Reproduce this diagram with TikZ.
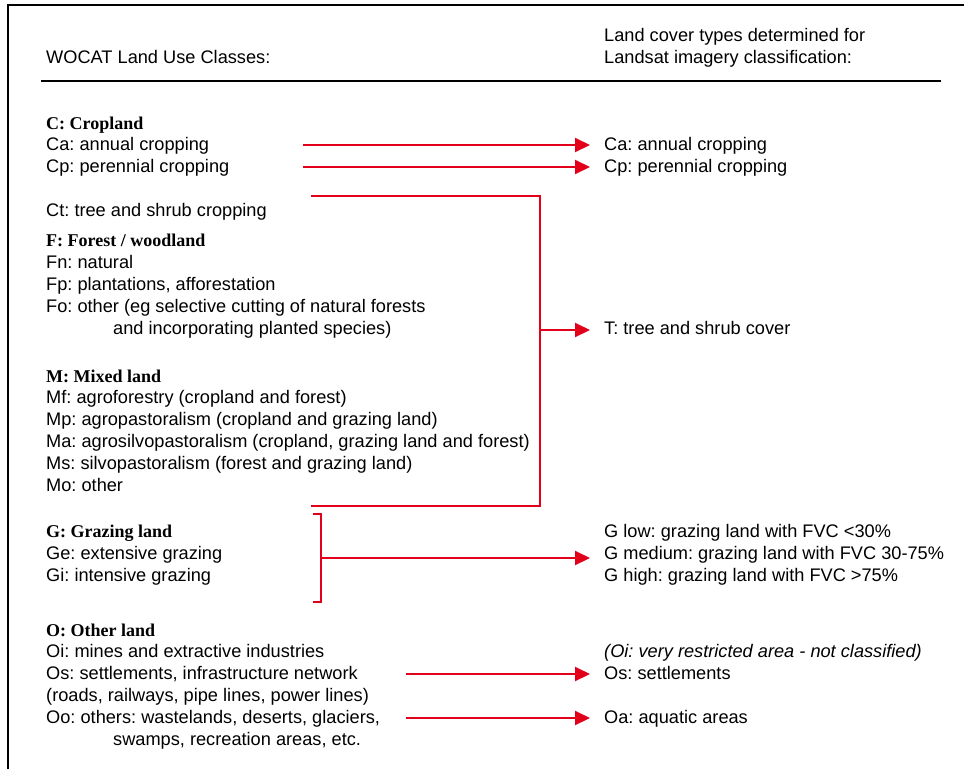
\documentclass[tikz,border=0pt]{standalone}
\usepackage{fontspec}
\setmainfont{Liberation Sans}
\newfontfamily\headfont{Liberation Serif}
\usepackage{tikz}
\usetikzlibrary{arrows.meta}
\frenchspacing
\definecolor{landred}{RGB}{226,0,26}
\tikzset{txt/.style={anchor=base west, inner sep=0pt, font=\fontsize{18.2}{22}\selectfont}}
\tikzset{head/.style={txt, font=\fontsize{18}{22}\selectfont\headfont\bfseries}}
\tikzset{rtxt/.style={txt, inner xsep=14pt}}
\tikzset{redline/.style={draw=landred, line width=2pt}}
\tikzset{redarrow/.style={redline, -{Triangle[length=15pt,width=14pt]}}}

\begin{document}
\begin{tikzpicture}[x=1pt,y=-1pt]
\useasboundingbox (0,0) rectangle (964,769);
\draw[line width=2pt] (8,769) -- (8,5) -- (964,5);
\draw[line width=2pt] (41,81) -- (941,81);
% headers
\node[txt] (lhead) at (46,63) {WOCAT Land Use Classes:};
\node[txt] (rhead1) at (604,41) {Land cover types determined for};
\node[txt] (rhead2) at (604,63) {Landsat imagery classification:};
% left column
\node[head] (hC) at (46,129) {C: Cropland};
\node[txt] (lCa) at (46,150) {Ca: annual cropping};
\node[txt] (lCp) at (46,172) {Cp: perennial cropping};
\node[txt] (lCt) at (46,216) {Ct: tree and shrub cropping};
\node[head] (hF) at (46,246) {F: Forest / woodland};
\node[txt] (lFn) at (46,268) {Fn: natural};
\node[txt] (lFp) at (46,290) {Fp: plantations, afforestation};
\node[txt] (lFo) at (46,312) {Fo: other (eg selective cutting of natural forests};
\node[txt] (lFo2) at (113,334) {and incorporating planted species)};
\node[head] (hM) at (46,382) {M: Mixed land};
\node[txt] (lMf) at (46,403) {Mf: agroforestry (cropland and forest)};
\node[txt] (lMp) at (46,425) {Mp: agropastoralism (cropland and grazing land)};
\node[txt] (lMa) at (46,447) {Ma: agrosilvopastoralism (cropland, grazing land and forest)};
\node[txt] (lMs) at (46,469) {Ms: silvopastoralism (forest and grazing land)};
\node[txt] (lMo) at (46,491) {Mo: other};
\node[head] (hG) at (46,537) {G: Grazing land};
\node[txt] (lGe) at (46,559) {Ge: extensive grazing};
\node[txt] (lGi) at (46,581) {Gi: intensive grazing};
\node[head] (hO) at (46,636) {O: Other land};
\node[txt] (lOi) at (46,657) {Oi: mines and extractive industries};
\node[txt] (lOs) at (46,679) {Os: settlements, infrastructure network};
\node[txt] (lOs2) at (46,701) {(roads, railways, pipe lines, power lines)};
\node[txt] (lOo) at (46,723) {Oo: others: wastelands, deserts, glaciers,};
\node[txt] (lOo2) at (113,745) {swamps, recreation areas, etc.};
% right column
\node[rtxt] (rCa) at (590,150) {Ca: annual cropping};
\node[rtxt] (rCp) at (590,172) {Cp: perennial cropping};
\node[rtxt] (rT) at (590,334) {T: tree and shrub cover};
\node[rtxt] (rGlow) at (590,537) {G low: grazing land with FVC <30\%};
\node[rtxt] (rGmed) at (590,559) {G medium: grazing land with FVC 30-75\%};
\node[rtxt] (rGhigh) at (590,581) {G high: grazing land with FVC >75\%};
\node[rtxt] (rOi) at (590,657) {\itshape (Oi: very restricted area - not classified)};
\node[rtxt] (rOs) at (590,679) {Os: settlements};
\node[rtxt] (rOa) at (590,723) {Oa: aquatic areas};
% connectors
\coordinate (aCa) at (303,145);
\coordinate (aCp) at (303,167);
\draw[redarrow] (aCa) -- (aCa -| rCa.west);
\draw[redarrow] (aCp) -- (aCp -| rCp.west);
\coordinate (tTop) at (311,196);
\coordinate (tBot) at (311,506);
\coordinate (tMid) at (540,330);
\draw[redline] (tTop) -- (tTop -| tMid) -- (tBot -| tMid) -- (tBot);
\draw[redarrow] (tMid) -- (tMid -| rT.west);
\coordinate (gTop) at (313,514);
\coordinate (gBot) at (313,602);
\coordinate (gMid) at (321,558);
\draw[redline] (gTop) -- (gTop -| gMid) -- (gBot -| gMid) -- (gBot);
\draw[redarrow] (gMid) -- (gMid -| rGmed.west);
\coordinate (aOs) at (406,674);
\coordinate (aOa) at (406,718);
\draw[redarrow] (aOs) -- (aOs -| rOs.west);
\draw[redarrow] (aOa) -- (aOa -| rOa.west);
\end{tikzpicture}
\end{document}
